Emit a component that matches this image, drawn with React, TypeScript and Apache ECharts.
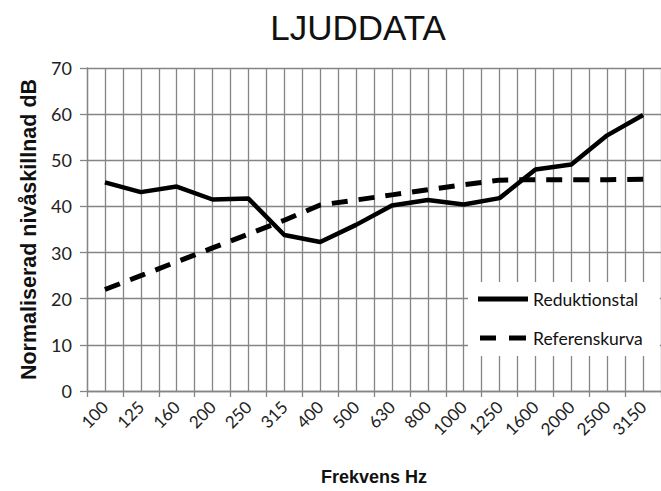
import React, { useEffect, useRef } from "react";
import * as echarts from "echarts";

const categories = ["100", "125", "160", "200", "250", "315", "400", "500", "630", "800", "1000", "1250", "1600", "2000", "2500", "3150"];
const reduktionstal = [45.2, 43.1, 44.3, 41.5, 41.7, 33.8, 32.3, 36.0, 40.2, 41.4, 40.4, 41.8, 48.0, 49.1, 55.4, 59.8];
const referenskurva = [22, 25, 28, 31, 34, 37, 40.3, 41.4, 42.5, 43.6, 44.7, 45.7, 45.8, 45.8, 45.8, 45.9];
const yTicks = { min: 0, max: 70, interval: 10 };

const gridColor = "#858585";
const labelFont = "Lato, 'Open Sans', sans-serif";
const solidIcon = "path://M0,0H50V5H0Z";
const dashedIcon = "path://M0,0H16V5H0Z M29,0H46V5H29Z";

export default function App() {
  const ref = useRef<HTMLDivElement>(null);
  useEffect(() => {
    if (!ref.current) return;
    const chart = echarts.init(ref.current, undefined, { renderer: "svg" });
    chart.setOption({
      animation: false,
      backgroundColor: "#ffffff",
      title: {
        text: "LJUDDATA",
        left: 353,
        top: 5,
        textAlign: "center",
        textStyle: { fontFamily: "'Liberation Sans', Arial, sans-serif", fontSize: 35, fontWeight: "normal", color: "#111" },
      },
      grid: { left: 87, top: 68, right: -8, bottom: 91, containLabel: false },
      legend: {
        data: [
          { name: "Reduktionstal", icon: solidIcon },
          { name: "Referenskurva", icon: dashedIcon },
        ],
        orient: "vertical",
        left: 468,
        top: 282,
        backgroundColor: "#ffffff",
        padding: [8, 17, 9, 10],
        itemWidth: 50,
        itemHeight: 5,
        itemGap: 21,
        textStyle: { fontFamily: labelFont, fontSize: 17.5, color: "#111" },
      },
      xAxis: [
        {
          type: "category",
          data: categories,
          boundaryGap: true,
          axisLine: { show: true, lineStyle: { color: gridColor, width: 1.3 } },
          axisTick: { show: true, length: 6, interval: 0, lineStyle: { color: gridColor, width: 1.3 } },
          axisLabel: { interval: 0, rotate: 45, fontFamily: labelFont, fontSize: 17, color: "#222", margin: 13 },
          splitLine: { show: false },
          name: "Frekvens Hz",
          nameLocation: "middle",
          nameGap: 77,
          nameTextStyle: { fontFamily: "'Liberation Sans', Arial, sans-serif", fontWeight: "bold", fontSize: 18, color: "#111" },
        },
        {
          type: "value",
          min: 0,
          max: 16,
          interval: 0.5,
          position: "bottom",
          axisLine: { show: false },
          axisTick: { show: false },
          axisLabel: { show: false },
          splitLine: { show: true, lineStyle: { color: gridColor, width: 1.3 } },
        },
      ],
      yAxis: {
        type: "value",
        min: yTicks.min,
        max: yTicks.max,
        interval: yTicks.interval,
        axisLine: { show: true, lineStyle: { color: gridColor, width: 1.3 } },
        axisTick: { show: true, length: 7, lineStyle: { color: gridColor, width: 1.3 } },
        axisLabel: { fontFamily: labelFont, fontSize: 18, color: "#222", margin: 15 },
        splitLine: { show: true, lineStyle: { color: gridColor, width: 1.3 } },
        name: "Normaliserad nivåskillnad dB",
        nameLocation: "middle",
        nameGap: 44,
        nameTextStyle: { fontFamily: "'Liberation Sans', Arial, sans-serif", fontWeight: "bold", fontSize: 21.5, color: "#111" },
      },
      series: [
        {
          name: "Reduktionstal",
          type: "line",
          xAxisIndex: 0,
          data: reduktionstal,
          symbol: "none",
          lineStyle: { color: "#000", width: 4.5, type: "solid" },
          itemStyle: { color: "#000" },
          z: 5,
        },
        {
          name: "Referenskurva",
          type: "line",
          xAxisIndex: 0,
          data: referenskurva,
          symbol: "none",
          lineStyle: { color: "#000", width: 5, type: [16, 11] },
          itemStyle: { color: "#000" },
          z: 4,
        },
      ],
    });
    return () => chart.dispose();
  }, []);
  return <div ref={ref} style={{ position: "absolute", left: 0, top: 0, width: 661, height: 491 }} />;
}
